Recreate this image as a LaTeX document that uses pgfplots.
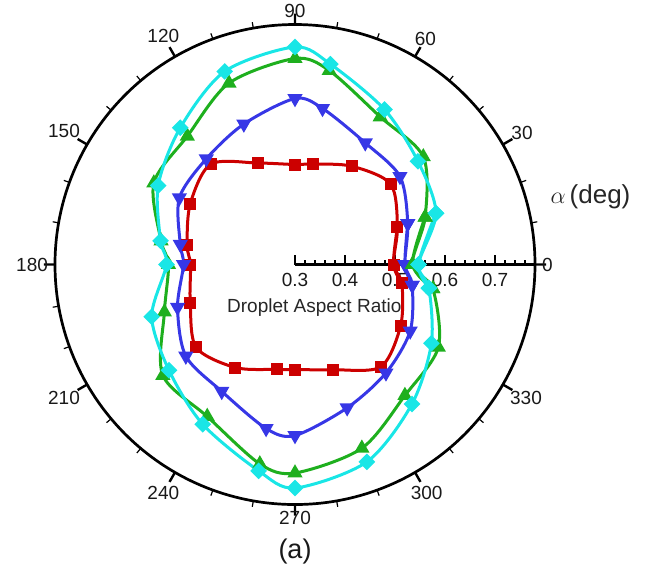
\documentclass[border=0pt]{standalone}
\usepackage{fontspec}
\setmainfont{Liberation Sans}
\usepackage{pgfplots}
\usepackage{pgfplotstable}
\pgfplotsset{compat=1.18}
\usepgfplotslibrary{polar}
\usetikzlibrary{calc}

\definecolor{cRed}{RGB}{204,0,0}
\definecolor{cBlue}{RGB}{55,55,230}
\definecolor{cGreen}{RGB}{30,175,30}
\definecolor{cCyan}{RGB}{25,230,230}

% angle (deg), droplet aspect ratio; first/last rows repeat points to close the loop
\pgfplotstableread{
a r
-10 0.517
0 0.497
20 0.518
40 0.550
60 0.527
80 0.504
90 0.500
110 0.516
130 0.562
150 0.542
170 0.519
180 0.509
200 0.523
220 0.558
240 0.538
260 0.513
270 0.510
290 0.524
310 0.567
330 0.544
350 0.517
360 0.497
380 0.518
}\redtab

\pgfplotstableread{
a r
-10 0.538
0 0.520
20 0.540
40 0.574
60 0.581
80 0.617
90 0.632
110 0.599
130 0.576
150 0.567
170 0.533
180 0.523
200 0.550
220 0.585
240 0.593
260 0.633
270 0.642
290 0.605
310 0.583
330 0.566
350 0.538
360 0.520
380 0.540
}\bluetab

\pgfplotstableread{
a r
-10 0.580
0 0.535
20 0.577
40 0.635
60 0.641
80 0.694
90 0.712
110 0.686
130 0.635
150 0.626
170 0.572
180 0.553
200 0.578
220 0.645
240 0.651
260 0.705
270 0.717
290 0.691
310 0.642
330 0.631
350 0.580
360 0.535
380 0.577
}\greentab

\pgfplotstableread{
a r
-10 0.572
0 0.547
20 0.600
40 0.621
60 0.658
80 0.707
90 0.735
110 0.711
130 0.657
150 0.616
170 0.573
180 0.557
200 0.605
220 0.629
240 0.669
260 0.719
270 0.747
290 0.720
310 0.664
330 0.615
350 0.572
360 0.547
380 0.600
}\cyantab

\begin{document}
\begin{tikzpicture}
\useasboundingbox (-147.5pt,-152.25pt) rectangle (178pt,132.25pt);
\begin{polaraxis}[
  at={(0pt,0pt)}, anchor=center,
  scale only axis, width=240pt, height=240pt,
  xmin=0, xmax=360, ymin=0, ymax=0.48,
  xtick={0,30,...,330},
  minor x tick num=2,
  ytick=\empty,
  grid=none,
  clip=false,
  axis line style={line width=1.35pt},
  major tick length=5.5pt, minor tick length=3pt,
  major tick style={line width=1.2pt, black},
  minor tick style={line width=0.6pt, black},
  /pgf/number format/assume math mode=true,
  xticklabel style={font=\fontsize{9.5}{11}\selectfont, text=black!90},
]
% radial axis (drawn beneath the curves)
\draw[line width=1.3pt] (axis cs:0,0) -- (axis cs:0,0.48);
\pgfplotsinvokeforeach{1,...,23}{
  \draw[line width=0.6pt] (axis cs:0,{0.02*#1}) -- ++(0,2.5pt);
}
\pgfplotsinvokeforeach{0,...,4}{
  \draw[line width=1.1pt] (axis cs:0,{0.1*#1}) -- ++(0,5pt);
}
\node[font=\fontsize{9.5}{11}\selectfont, text=black!90] at ($(axis cs:0,0)+(0,-7.75pt)$) {0.3};
\node[font=\fontsize{9.5}{11}\selectfont, text=black!90] at ($(axis cs:0,0.1)+(0,-7.75pt)$) {0.4};
\node[font=\fontsize{9.5}{11}\selectfont, text=black!90] at ($(axis cs:0,0.2)+(0,-7.75pt)$) {0.5};
\node[font=\fontsize{9.5}{11}\selectfont, text=black!90] at ($(axis cs:0,0.3)+(0,-7.75pt)$) {0.6};
\node[font=\fontsize{9.5}{11}\selectfont, text=black!90] at ($(axis cs:0,0.4)+(0,-7.75pt)$) {0.7};
\node[font=\fontsize{9.5}{11}\selectfont, text=black!85] at ($(axis cs:0,0)+(9.65pt,-21.6pt)$) {Droplet Aspect Ratio};

\addplot[cRed, line width=1.5pt, smooth, mark=square*, mark size=2.25pt, mark options={solid, fill=cRed}]
  table[x=a, y expr=\thisrow{r}-0.3] {\redtab};
\addplot[cBlue, line width=1.5pt, smooth, mark=triangle*, mark size=2.9pt, mark options={solid, fill=cBlue, rotate=180}]
  table[x=a, y expr=\thisrow{r}-0.3] {\bluetab};
\addplot[cGreen, line width=1.5pt, smooth, mark=triangle*, mark size=2.9pt, mark options={solid, fill=cGreen}]
  table[x=a, y expr=\thisrow{r}-0.3] {\greentab};
\addplot[cCyan, line width=1.5pt, smooth, mark=square*, mark size=2.2pt, mark options={solid, fill=cCyan, rotate=45}]
  table[x=a, y expr=\thisrow{r}-0.3] {\cyantab};
\end{polaraxis}
\node[font=\fontsize{13}{15}\selectfont, text=black!85] at (147.75pt,33.9pt) {$\alpha\,$(deg)};
\node[font=\fontsize{13.5}{16}\selectfont, text=black!90] at (0pt,-143.6pt) {(a)};
\end{tikzpicture}
\end{document}
